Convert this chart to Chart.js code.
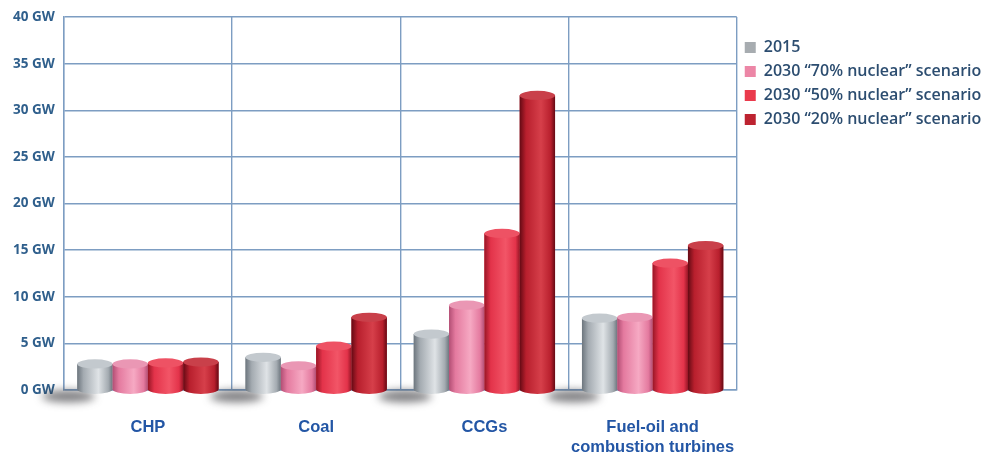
<!DOCTYPE html>
<html>
<head>
<meta charset="utf-8">
<script src="https://cdn.jsdelivr.net/npm/chart.js@4.4.1/dist/chart.umd.min.js"></script>
<style>
  html, body { margin: 0; padding: 0; background: #ffffff; }
  #wrap { width: 987px; height: 454px; }
</style>
</head>
<body>
<div id="wrap"><canvas id="chart" width="987" height="454"></canvas></div>
<script>
// Installed generating capacity by technology (GW)
const categories = ['CHP', 'Coal', 'CCGs', ['Fuel-oil and', 'combustion turbines']];
const seriesNames = ['2015', '2030 \u201C70% nuclear\u201D scenario', '2030 \u201C50% nuclear\u201D scenario', '2030 \u201C20% nuclear\u201D scenario'];
const values2015 = [2.8, 3.5, 6.0, 7.7];
const values70 = [2.8, 2.6, 9.1, 7.8];
const values50 = [2.9, 4.7, 16.8, 13.6];
const values20 = [3.0, 7.8, 31.6, 15.5];
const yTicks = [0, 5, 10, 15, 20, 25, 30, 35, 40];

// Cylinder shading per series: edge, body, highlight, top cap
const shades = [
  { base: '#a7acb0', dark: '#6d767e', mid: '#a4abb1', light: '#dfe3e6', top: '#c3c9ce' },
  { base: '#ec86a6', dark: '#b24e74', mid: '#e47a9f', light: '#f6a9c3', top: '#ea97b4' },
  { base: '#ea3a4c', dark: '#981626', mid: '#e3334a', light: '#f25567', top: '#ee5264' },
  { base: '#bd2330', dark: '#650a14', mid: '#b81f2d', light: '#d63f4a', top: '#c9404a' }
];

const allSeries = [values2015, values70, values50, values20];

const gridBlue = '#7d9dc2';

// Draws each bar as a shaded cylinder with a floor shadow
const cylinderPlugin = {
  id: 'cylinders',
  beforeDatasetsDraw(chart) {
    const ctx = chart.ctx;
    const first = chart.getDatasetMeta(0);
    ctx.save();
    ctx.filter = 'blur(4px)';
    first.data.forEach(bar => {
      const p = bar.getProps(['x', 'base', 'width'], true);
      ctx.fillStyle = 'rgba(55,55,60,0.65)';
      ctx.beginPath();
      ctx.ellipse(p.x - p.width * 0.75, p.base + 7, p.width * 0.75, 6, 0, 0, Math.PI * 2);
      ctx.fill();
    });
    ctx.restore();
  },
  afterDatasetsDraw(chart) {
    const ctx = chart.ctx;
    chart.data.datasets.forEach((ds, i) => {
      const meta = chart.getDatasetMeta(i);
      if (meta.hidden) return;
      const s = shades[i];
      meta.data.forEach(bar => {
        const p = bar.getProps(['x', 'y', 'base', 'width'], true);
        const l = p.x - p.width / 2, r = p.x + p.width / 2;
        const ry = p.width * 0.13;
        const g = ctx.createLinearGradient(l, 0, r, 0);
        g.addColorStop(0, s.dark);
        g.addColorStop(0.18, s.mid);
        g.addColorStop(0.6, s.light);
        g.addColorStop(0.88, s.mid);
        g.addColorStop(1, s.dark);
        ctx.save();
        ctx.fillStyle = g;
        ctx.beginPath();
        ctx.moveTo(l, p.y);
        ctx.lineTo(l, p.base);
        ctx.ellipse(p.x, p.base, p.width / 2, ry, 0, Math.PI, 0, true);
        ctx.lineTo(r, p.y);
        ctx.closePath();
        ctx.fill();
        ctx.fillStyle = s.top;
        ctx.beginPath();
        ctx.ellipse(p.x, p.y, p.width / 2, ry, 0, 0, Math.PI * 2);
        ctx.fill();
        ctx.restore();
      });
    });
  }
};

const datasets = allSeries.map((vals, i) => ({
  label: seriesNames[i],
  data: vals,
  backgroundColor: shades[i].base,
  borderWidth: 0,
  barPercentage: 1.0,
  categoryPercentage: 0.84
}));

new Chart(document.getElementById('chart'), {
  type: 'bar',
  data: { labels: categories, datasets },
  plugins: [cylinderPlugin],
  options: {
    responsive: false,
    devicePixelRatio: 1,
    animation: false,
    layout: { padding: { left: 4, top: 16, right: 6, bottom: 0 } },
    plugins: {
      tooltip: { enabled: false },
      legend: {
        position: 'right',
        align: 'start',
        title: { display: true, text: ' ', padding: 0, font: { size: 13 } },
        labels: {
          boxWidth: 11,
          boxHeight: 11,
          padding: 8,
          color: '#2c4d70',
          font: { family: 'Open Sans', size: 16, weight: '600' }
        }
      }
    },
    scales: {
      x: {
        afterFit(axis) { axis.height = 64; },
        grid: { color: gridBlue, lineWidth: 1.4, drawTicks: false, offset: true },
        border: { display: true, color: gridBlue, width: 1.4 },
        ticks: {
          padding: 28,
          color: '#2356a5',
          font: { family: 'Liberation Sans', size: 16.5, weight: 'bold' },
          maxRotation: 0
        }
      },
      y: {
        min: 0,
        max: 40,
        afterBuildTicks(axis) { axis.ticks = yTicks.map(v => ({ value: v })); },
        grid: { color: gridBlue, lineWidth: 1.4, drawTicks: false },
        border: { display: true, color: gridBlue, width: 1.4 },
        ticks: {
          padding: 9,
          color: '#2f5f8c',
          font: { family: 'Open Sans', size: 13.5, weight: 'bold' },
          callback: v => v + ' GW'
        }
      }
    }
  }
});
</script>
</body>
</html>
